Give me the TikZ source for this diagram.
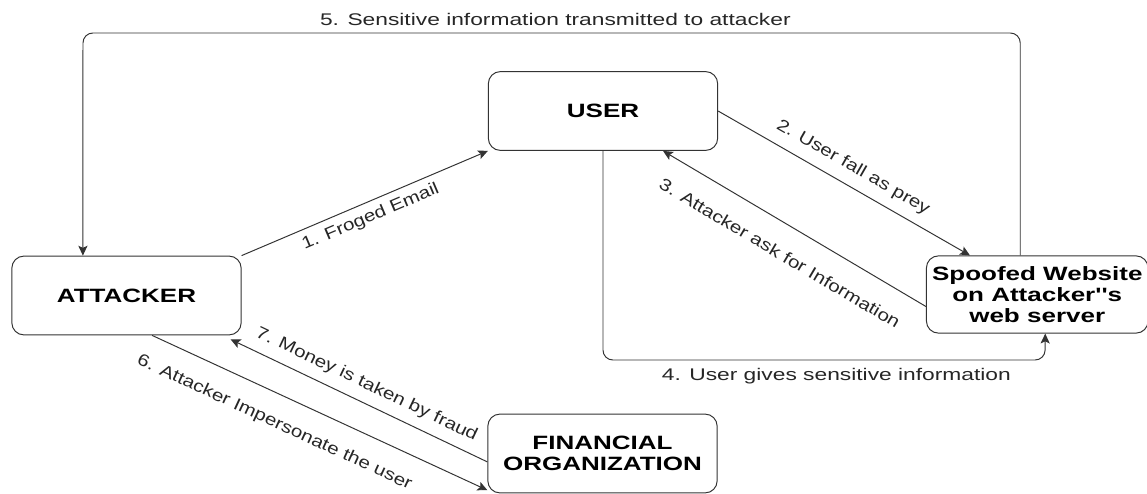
\documentclass[tikz,border=0pt]{standalone}
\usepackage{fontspec}
\setmainfont{Liberation Sans}[FakeStretch=1.35, Ligatures=TeXOff]
\newfontfamily\slopefont{Liberation Sans}[FakeStretch=1.22, Ligatures=TeXOff]
\usetikzlibrary{arrows.meta}

\begin{document}
\begin{tikzpicture}[x=0.025cm, y=-0.025cm, line width=0.7pt,
	box/.style={draw=black!80, rounded corners=0.3cm, align=center, inner sep=0pt,
		minimum width=5.73cm, minimum height=1.97cm,
		font=\bfseries\fontsize{13.7}{15}\selectfont},
	link/.style={draw=black!80, -{Stealth[length=7pt,width=6.5pt,inset=1.5pt]}},
	lbl/.style={font=\fontsize{12}{14}\selectfont, text=black!85, inner sep=2pt},
	slbl/.style={lbl, font=\slopefont\fontsize{12}{14}\selectfont, sloped}]

\useasboundingbox (0,0) rectangle (1147,494);

\node[box] (att) at (126.5,295.5) {ATTACKER};
\node[box] (usr) at (603,111) {USER};
\node[box, minimum width=5.54cm, minimum height=1.93cm] (spf) at (1037.25,294.5) {Spoofed Website\\on Attacker''s\\web server};
\node[box] (fin) at (602.5,453.5) {FINANCIAL\\ORGANIZATION};

\coordinate (top) at (83,33);    % corner of 5
\coordinate (bot) at (1045,360); % corner of 4

% 1
\draw[link] (att.north east) -- (usr.south west)
node[slbl, midway, below=2.8pt] {1. Froged Email};

% 2
\draw[link] (usr.east) -- ([xshift=1.1cm]spf.north west)
node[slbl, midway, above=5pt] {2. User fall as prey};

% 3
\draw[link] ([yshift=-0.3cm]spf.west) -- ([xshift=1.5cm]usr.south)
node[slbl, midway, below=13.5pt] {3. Attacker ask for Information};

% 4
\draw[link, rounded corners=7pt] (usr.south) |- (bot)
node[lbl, pos=0.764, below=3.7pt] {4. User gives sensitive information}
-- ([xshift=0.2cm]spf.south);

% 5
\draw[link, rounded corners=7pt] ([xshift=-0.425cm]spf.north) |- (top)
node[lbl, pos=0.748, above=3pt] {5. Sensitive information transmitted to attacker}
-- ([xshift=-1.09cm]att.north);

% 6
\draw[link] ([xshift=0.64cm]att.south) -- ([yshift=0.08cm]fin.south west)
node[slbl, pos=0.4, below=12pt] {6. Attacker Impersonate the user};

% 7
\draw[link] ([yshift=-0.21cm]fin.west) -- ([xshift=-0.275cm,yshift=-0.1cm]att.south east)
node[slbl, midway, above=4.7pt] {7. Money is taken by fraud};

\end{tikzpicture}
\end{document}
